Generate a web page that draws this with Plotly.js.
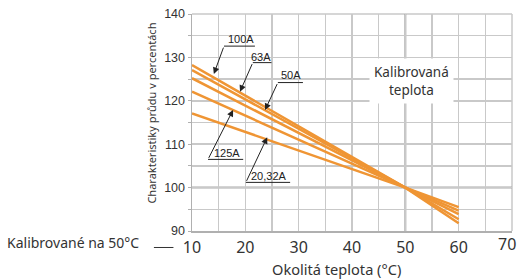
<!DOCTYPE html>
<html>
<head>
<meta charset="utf-8">
<script src="https://cdn.plot.ly/plotly-3.0.1.min.js"></script>
<style>html,body{margin:0;padding:0;background:#fff;}#chart{width:517px;height:280px;}</style>
</head>
<body>
<div id="chart"></div>
<script>
// ---- data ----
const temps = [10, 50, 60];
const seriesNames = ['100A', '63A', '50A', '125A', '20,32A'];
const v100A = [128.25, 100, 91.8];
const v63A = [127.1, 100, 92.7];
const v50A = [125.2, 100, 93.9];
const v125A = [122.1, 100, 94.7];
const v2032A = [117.1, 100, 95.5];
const seriesValues = [v100A, v63A, v50A, v125A, v2032A];
const xTicks = [10, 20, 30, 40, 50, 60, 70];
const yTicks = [90, 100, 110, 120, 130, 140];
const calibTemp = 50;
const calibValue = 100;

// label placement (data coords): [textX, textY, underlineX0, underlineX1, underlineY, tipX, tipY]
const labelPos = [
  [19.1, 134.2, 16.0, 21.8, 132.6, 14.1, 126.2],
  [23.0, 130.2, 21.4, 24.9, 128.8, 19.0, 122.1],
  [28.5, 125.9, 26.1, 30.8, 124.2, 23.7, 117.9],
  [16.5, 107.9, 13.0, 19.6, 106.5, 17.7, 117.9],
  [24.4, 102.6, 20.1, 28.4, 101.2, 24.1, 111.6]
];

const orange = '#ef9534';
const traces = seriesNames.map((n, i) => ({
  x: temps, y: seriesValues[i], name: n, type: 'scatter', mode: 'lines',
  line: {color: orange, width: 2.5}, showlegend: false, hoverinfo: 'skip'
}));

const gridC = '#c9c9c9';
const shapes = [];
const annotations = [];
labelPos.forEach((p, i) => {
  shapes.push({type: 'line', xref: 'x', yref: 'y', x0: p[2], x1: p[3], y0: p[4], y1: p[4],
    line: {color: '#222', width: 1}});
  annotations.push({xref: 'x', yref: 'y', x: p[0], y: p[1], text: seriesNames[i], showarrow: false,
    font: {family: 'Liberation Sans, Arial', size: 11, color: '#222'}});
  annotations.push({xref: 'x', yref: 'y', axref: 'x', ayref: 'y', x: p[5], y: p[6], ax: p[2], ay: p[4],
    text: '', showarrow: true, arrowhead: 2, arrowsize: 1.3, arrowwidth: 1, arrowcolor: '#222', standoff: 0, startstandoff: 0});
});
// calibration highlight lines
shapes.unshift({type: 'line', xref: 'x', yref: 'y', x0: calibTemp, x1: calibTemp, y0: 90, y1: 140, layer: 'below',
  line: {color: '#a9a9a9', width: 2}});
shapes.unshift({type: 'line', xref: 'x', yref: 'y', x0: 10, x1: 70, y0: calibValue, y1: calibValue, layer: 'below',
  line: {color: '#a9a9a9', width: 2}});
// right & top border
shapes.push({type: 'line', xref: 'paper', yref: 'paper', x0: 1, x1: 1, y0: 0, y1: 1, layer: 'below', line: {color: gridC, width: 1.5}});
shapes.push({type: 'line', xref: 'paper', yref: 'paper', x0: 0, x1: 1, y0: 1, y1: 1, layer: 'below', line: {color: gridC, width: 1.5}});
// "Kalibrované na 50°C" dash
shapes.push({type: 'line', xref: 'paper', yref: 'paper', x0: -0.119, x1: -0.058, y0: -0.076, y1: -0.076,
  line: {color: '#333', width: 1}});

annotations.push({xref: 'x', yref: 'y', x: 51.2, y: 124.6, text: 'Kalibrovaná<br>teplota', showarrow: false,
  bgcolor: '#fff', borderpad: 4, font: {family: 'Noto Sans', size: 13.5, color: '#333'}});
annotations.push({xref: 'paper', yref: 'paper', x: -0.584, y: -0.055, xanchor: 'left', yanchor: 'middle',
  text: 'Kalibrované na 50°C', showarrow: false, font: {family: 'Noto Sans', size: 14, color: '#333'}});
annotations.push({xref: 'paper', yref: 'paper', x: -0.125, y: 0.541, xanchor: 'center', yanchor: 'middle', textangle: -90,
  text: 'Charakteristiky průdu v percentách', showarrow: false, font: {family: 'Noto Sans', size: 11, color: '#333'}});
annotations.push({xref: 'paper', yref: 'paper', x: 0.453, y: -0.175, xanchor: 'center', yanchor: 'middle',
  text: 'Okolitá teplota (°C)', showarrow: false, font: {family: 'Noto Sans', size: 14.6, color: '#333'}});
// last x tick label placed as annotation so it stays inside the page edge
annotations.push({xref: 'paper', yref: 'paper', x: 1.0156, y: 0, xanchor: 'right', yanchor: 'top', yshift: -1,
  text: String(xTicks[xTicks.length - 1]), showarrow: false, borderpad: 0,
  font: {family: 'Noto Sans', size: 16, color: '#333'}});

const layout = {
  width: 517, height: 280,
  margin: {l: 192, r: 5, t: 14, b: 49, pad: 0},
  paper_bgcolor: '#fff', plot_bgcolor: '#fff',
  xaxis: {
    range: [10, 70], tickvals: xTicks, ticktext: xTicks.map((t, i) => i === xTicks.length - 1 ? '' : String(t)),
    showgrid: true, gridcolor: gridC, gridwidth: 1.5, zeroline: false,
    showline: true, linecolor: '#b0b0b0', linewidth: 1.5,
    ticks: '', ticklabelstandoff: 1,
    minor: {dtick: 5, showgrid: true, gridcolor: gridC, gridwidth: 1.5},
    tickfont: {family: 'Noto Sans', size: 16, color: '#333'}
  },
  yaxis: {
    range: [90, 140], tickvals: yTicks, ticktext: yTicks.map(String),
    showgrid: true, gridcolor: gridC, gridwidth: 1.5, zeroline: false,
    showline: true, linecolor: '#b0b0b0', linewidth: 1.5,
    ticks: 'outside', ticklen: 3, tickcolor: '#b0b0b0', tickwidth: 1,
    minor: {dtick: 5, showgrid: true, gridcolor: gridC, gridwidth: 1.5, ticks: 'outside', ticklen: 3, tickcolor: '#b0b0b0'},
    tickfont: {family: 'Liberation Sans, Arial', size: 12.5, color: '#333'}
  },
  shapes: shapes,
  annotations: annotations
};

Plotly.newPlot('chart', traces, layout, {staticPlot: true, displayModeBar: false});
</script>
</body>
</html>
